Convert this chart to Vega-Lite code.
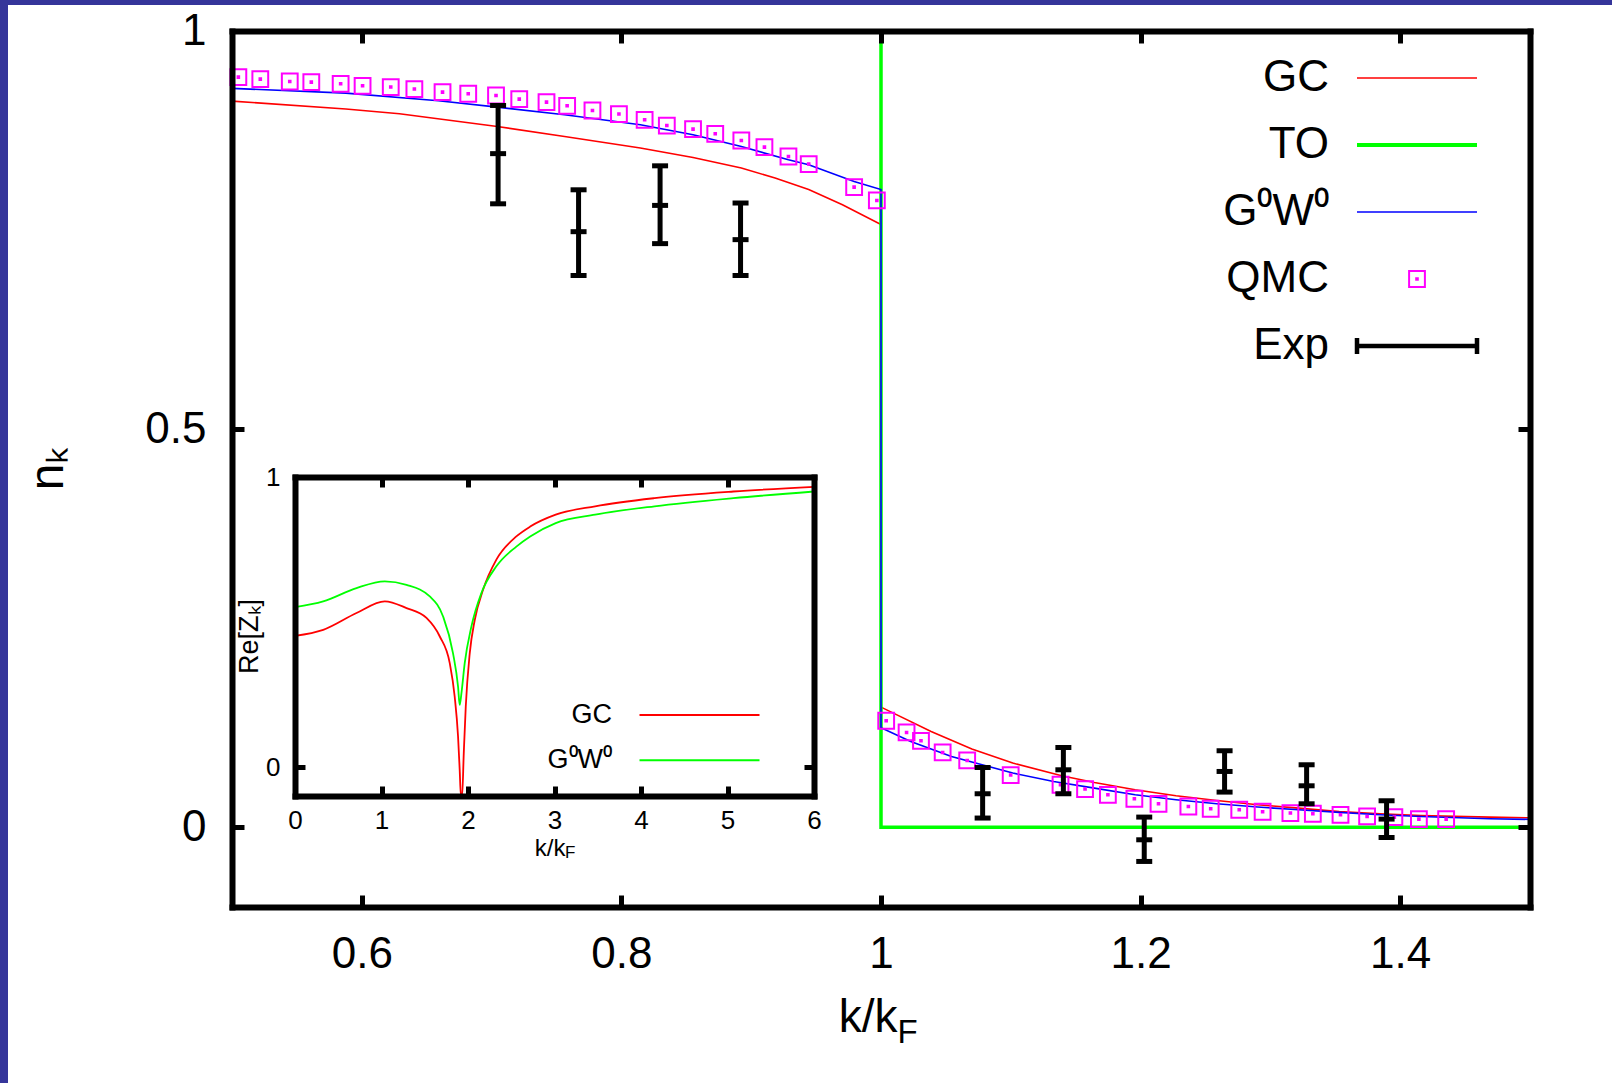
{
  "$schema": "https://vega.github.io/schema/vega-lite/v6.json",
  "padding": 0,
  "background": "white",
  "config": {
    "view": {"stroke": null},
    "font": "Liberation Sans",
    "axis": {"labelFont": "Liberation Sans", "titleFont": "Liberation Sans", "labelColor": "#000", "titleColor": "#000", "tickColor": "#000", "domainColor": "#000", "grid": false, "titleFontWeight": "normal", "labelFlush": false, "labelOverlap": false, "zindex": 1, "domainCap": "square"},
    "legend": {"labelFont": "Liberation Sans", "labelColor": "#000"}
  },
  "datasets": {
    "gc": [
      {"k": 0.5, "n": 0.912}, {"k": 0.5877, "n": 0.902}, {"k": 0.629, "n": 0.896}, {"k": 0.7044, "n": 0.880}, {"k": 0.7562, "n": 0.8676}, {"k": 0.8146, "n": 0.853}, {"k": 0.8552, "n": 0.8412}, {"k": 0.8924, "n": 0.828}, {"k": 0.9184, "n": 0.8153}, {"k": 0.9443, "n": 0.801}, {"k": 0.9703, "n": 0.7818}, {"k": 1.0, "n": 0.757}, {"k": 1.0, "n": 0.151}, {"k": 1.0386, "n": 0.1204}, {"k": 1.07, "n": 0.0983}, {"k": 1.1015, "n": 0.0807}, {"k": 1.1392, "n": 0.0648}, {"k": 1.1644, "n": 0.0564}, {"k": 1.1958, "n": 0.0472}, {"k": 1.2273, "n": 0.0397}, {"k": 1.2587, "n": 0.0338}, {"k": 1.2902, "n": 0.0284}, {"k": 1.3217, "n": 0.0242}, {"k": 1.3531, "n": 0.0200}, {"k": 1.3845, "n": 0.0171}, {"k": 1.416, "n": 0.0149}, {"k": 1.4688, "n": 0.0129}, {"k": 1.5, "n": 0.012}
    ],
    "g0w0": [
      {"k": 0.5, "n": 0.928}, {"k": 0.5877, "n": 0.922}, {"k": 0.659, "n": 0.9124}, {"k": 0.7044, "n": 0.9044}, {"k": 0.7562, "n": 0.8948}, {"k": 0.8146, "n": 0.8822}, {"k": 0.8552, "n": 0.8697}, {"k": 0.8924, "n": 0.855}, {"k": 0.9287, "n": 0.8383}, {"k": 0.9443, "n": 0.832}, {"k": 0.9793, "n": 0.811}, {"k": 1.0, "n": 0.801}, {"k": 1.0, "n": 0.125}, {"k": 1.0229, "n": 0.1079}, {"k": 1.0543, "n": 0.089}, {"k": 1.1015, "n": 0.0682}, {"k": 1.133, "n": 0.0576}, {"k": 1.1644, "n": 0.0493}, {"k": 1.1958, "n": 0.0409}, {"k": 1.2273, "n": 0.0347}, {"k": 1.2587, "n": 0.0296}, {"k": 1.2902, "n": 0.0255}, {"k": 1.3217, "n": 0.0221}, {"k": 1.3531, "n": 0.0188}, {"k": 1.3845, "n": 0.0158}, {"k": 1.416, "n": 0.0137}, {"k": 1.4688, "n": 0.0108}, {"k": 1.5, "n": 0.010}
    ],
    "to": [{"k": 0.5, "n": 1}, {"k": 1.0, "n": 1}, {"k": 1.0, "n": 0}, {"k": 1.5, "n": 0}],
    "qmc": [
      {"series": "QMC", "k": 0.5049, "n": 0.9421}, {"series": "QMC", "k": 0.5218, "n": 0.9396}, {"series": "QMC", "k": 0.5445, "n": 0.9366}, {"series": "QMC", "k": 0.5611, "n": 0.9358}, {"series": "QMC", "k": 0.5837, "n": 0.9337}, {"series": "QMC", "k": 0.6006, "n": 0.9312}, {"series": "QMC", "k": 0.6223, "n": 0.9296}, {"series": "QMC", "k": 0.6405, "n": 0.9271}, {"series": "QMC", "k": 0.6622, "n": 0.9233}, {"series": "QMC", "k": 0.682, "n": 0.9212}, {"series": "QMC", "k": 0.7034, "n": 0.919}, {"series": "QMC", "k": 0.7213, "n": 0.9145}, {"series": "QMC", "k": 0.7423, "n": 0.9107}, {"series": "QMC", "k": 0.7582, "n": 0.9061}, {"series": "QMC", "k": 0.7777, "n": 0.9002}, {"series": "QMC", "k": 0.7981, "n": 0.8957}, {"series": "QMC", "k": 0.8179, "n": 0.8885}, {"series": "QMC", "k": 0.835, "n": 0.8813}, {"series": "QMC", "k": 0.8552, "n": 0.8768}, {"series": "QMC", "k": 0.8723, "n": 0.8709}, {"series": "QMC", "k": 0.8924, "n": 0.8625}, {"series": "QMC", "k": 0.9102, "n": 0.8542}, {"series": "QMC", "k": 0.9287, "n": 0.8424}, {"series": "QMC", "k": 0.9443, "n": 0.8329}, {"series": "QMC", "k": 0.9793, "n": 0.804}, {"series": "QMC", "k": 0.9968, "n": 0.7872},
      {"series": "QMC", "k": 1.004, "n": 0.1339}, {"series": "QMC", "k": 1.0197, "n": 0.1192}, {"series": "QMC", "k": 1.0308, "n": 0.1087}, {"series": "QMC", "k": 1.0475, "n": 0.0941}, {"series": "QMC", "k": 1.0664, "n": 0.084}, {"series": "QMC", "k": 1.0999, "n": 0.0657}, {"series": "QMC", "k": 1.1383, "n": 0.0535}, {"series": "QMC", "k": 1.1572, "n": 0.0481}, {"series": "QMC", "k": 1.1748, "n": 0.0409}, {"series": "QMC", "k": 1.1952, "n": 0.0359}, {"series": "QMC", "k": 1.2138, "n": 0.0296}, {"series": "QMC", "k": 1.2368, "n": 0.0262}, {"series": "QMC", "k": 1.254, "n": 0.0234}, {"series": "QMC", "k": 1.276, "n": 0.0221}, {"series": "QMC", "k": 1.294, "n": 0.0196}, {"series": "QMC", "k": 1.3154, "n": 0.018}, {"series": "QMC", "k": 1.3327, "n": 0.0171}, {"series": "QMC", "k": 1.354, "n": 0.0158}, {"series": "QMC", "k": 1.3745, "n": 0.0137}, {"series": "QMC", "k": 1.3955, "n": 0.0129}, {"series": "QMC", "k": 1.4144, "n": 0.0104}, {"series": "QMC", "k": 1.4354, "n": 0.0104}
    ],
    "exp": [
      {"k": 0.705, "lo": 0.783, "mid": 0.846, "hi": 0.9065},
      {"k": 0.767, "lo": 0.693, "mid": 0.748, "hi": 0.8006},
      {"k": 0.8298, "lo": 0.733, "mid": 0.781, "hi": 0.8307},
      {"k": 0.8918, "lo": 0.693, "mid": 0.738, "hi": 0.784},
      {"k": 1.0783, "lo": 0.0117, "mid": 0.0422, "hi": 0.0752},
      {"k": 1.1405, "lo": 0.0422, "mid": 0.0723, "hi": 0.1003},
      {"k": 1.2028, "lo": -0.0428, "mid": -0.0156, "hi": 0.0129},
      {"k": 1.2647, "lo": 0.0443, "mid": 0.0702, "hi": 0.0962},
      {"k": 1.3279, "lo": 0.0296, "mid": 0.0522, "hi": 0.0786},
      {"k": 1.3895, "lo": -0.0127, "mid": 0.0104, "hi": 0.0334}
    ],
    "inset": [
      {"s": "GC", "x": 0.0, "z": 0.452}, {"s": "GC", "x": 0.326, "z": 0.473}, {"s": "GC", "x": 0.711, "z": 0.531}, {"s": "GC", "x": 1.038, "z": 0.571}, {"s": "GC", "x": 1.289, "z": 0.548}, {"s": "GC", "x": 1.52, "z": 0.514}, {"s": "GC", "x": 1.674, "z": 0.45}, {"s": "GC", "x": 1.789, "z": 0.358}, {"s": "GC", "x": 1.846, "z": 0.243}, {"s": "GC", "x": 1.885, "z": 0.105}, {"s": "GC", "x": 1.904, "z": -0.01}, {"s": "GC", "x": 1.918, "z": -0.1}, {"s": "GC", "x": 1.932, "z": -0.1}, {"s": "GC", "x": 1.951, "z": 0.047}, {"s": "GC", "x": 1.974, "z": 0.208}, {"s": "GC", "x": 2.02, "z": 0.392}, {"s": "GC", "x": 2.078, "z": 0.507}, {"s": "GC", "x": 2.174, "z": 0.611}, {"s": "GC", "x": 2.328, "z": 0.715}, {"s": "GC", "x": 2.559, "z": 0.795}, {"s": "GC", "x": 2.719, "z": 0.829}, {"s": "GC", "x": 3.014, "z": 0.87}, {"s": "GC", "x": 3.47, "z": 0.899}, {"s": "GC", "x": 4.156, "z": 0.927}, {"s": "GC", "x": 5.068, "z": 0.95}, {"s": "GC", "x": 6.0, "z": 0.966},
      {"s": "G⁰W⁰", "x": 0.0, "z": 0.551}, {"s": "G⁰W⁰", "x": 0.326, "z": 0.571}, {"s": "G⁰W⁰", "x": 0.711, "z": 0.617}, {"s": "G⁰W⁰", "x": 1.038, "z": 0.64}, {"s": "G⁰W⁰", "x": 1.289, "z": 0.628}, {"s": "G⁰W⁰", "x": 1.558, "z": 0.588}, {"s": "G⁰W⁰", "x": 1.712, "z": 0.519}, {"s": "G⁰W⁰", "x": 1.827, "z": 0.392}, {"s": "G⁰W⁰", "x": 1.885, "z": 0.277}, {"s": "G⁰W⁰", "x": 1.904, "z": 0.214}, {"s": "G⁰W⁰", "x": 1.924, "z": 0.254}, {"s": "G⁰W⁰", "x": 1.962, "z": 0.358}, {"s": "G⁰W⁰", "x": 2.039, "z": 0.484}, {"s": "G⁰W⁰", "x": 2.155, "z": 0.6}, {"s": "G⁰W⁰", "x": 2.328, "z": 0.692}, {"s": "G⁰W⁰", "x": 2.559, "z": 0.76}, {"s": "G⁰W⁰", "x": 2.719, "z": 0.795}, {"s": "G⁰W⁰", "x": 3.014, "z": 0.841}, {"s": "G⁰W⁰", "x": 3.47, "z": 0.87}, {"s": "G⁰W⁰", "x": 4.156, "z": 0.899}, {"s": "G⁰W⁰", "x": 5.068, "z": 0.927}, {"s": "G⁰W⁰", "x": 6.0, "z": 0.95}
    ]
  },
  "bounds": "flush",
  "spacing": 0,
  "vconcat": [
    {"width": 1612, "height": 5, "data": {"values": []}, "mark": "point", "view": {"fill": "#35359a", "stroke": null}},
    {
      "bounds": "flush",
      "spacing": 224,
      "hconcat": [
        {"width": 8, "height": 1078, "data": {"values": []}, "mark": "point", "view": {"fill": "#35359a", "stroke": null}},
        {
          "bounds": "flush",
          "spacing": 0,
          "vconcat": [
            {"width": 1298, "height": 26, "data": {"values": []}, "mark": "point"},
            {
              "width": 1298,
              "height": 876,
              "layer": [
                {
                  "layer": [
                    {
                      "data": {"name": "gc"},
                      "mark": {"type": "line", "color": "#ff0000", "strokeWidth": 1.6},
                      "encoding": {
                        "x": {"field": "k", "type": "quantitative", "scale": {"domain": [0.5, 1.5], "nice": false, "zero": false},
                          "axis": {"orient": "bottom", "zindex": 2, "values": [0.6, 0.8, 1, 1.2, 1.4], "format": "~g", "tickSize": -12, "tickWidth": 5, "domainWidth": 6, "labelFontSize": 44, "labelPadding": 37, "title": "k/k", "titleFontSize": 46, "titleAlign": "right", "titleX": 665, "titleY": 124, "titleBaseline": "alphabetic", "titleAngle": 0}},
                        "y": {"field": "n", "type": "quantitative", "scale": {"domain": [-0.1, 1], "nice": false, "zero": false},
                          "axis": {"orient": "left", "zindex": 2, "values": [0, 0.5, 1], "format": "~g", "tickSize": -12, "tickWidth": 5, "domainWidth": 6, "labelFontSize": 44, "labelPadding": 38, "title": "nₖ", "titleFontSize": 48, "titleX": -170, "titleY": 437, "titleAlign": "center", "titleBaseline": "alphabetic", "titleAngle": 270}}
                      }
                    },
                    {
                      "data": {"name": "to"},
                      "mark": {"type": "line", "color": "#00ff00", "strokeWidth": 3.5},
                      "encoding": {
                        "x": {"field": "k", "type": "quantitative", "scale": {"domain": [0.5, 1.5], "nice": false, "zero": false},
                          "axis": {"orient": "top", "zindex": 2, "values": [0.6, 0.8, 1, 1.2, 1.4], "labels": false, "tickSize": -12, "tickWidth": 5, "domainWidth": 6, "title": null}},
                        "y": {"field": "n", "type": "quantitative", "scale": {"domain": [-0.1, 1], "nice": false, "zero": false},
                          "axis": {"orient": "right", "zindex": 2, "values": [0, 0.5, 1], "labels": false, "tickSize": -12, "tickWidth": 5, "domainWidth": 6, "title": null}}
                      }
                    },
                    {
                      "data": {"name": "g0w0"},
                      "mark": {"type": "line", "color": "#0000ff", "strokeWidth": 1.6},
                      "encoding": {
                        "x": {"field": "k", "type": "quantitative", "scale": {"domain": [0.5, 1.5], "nice": false, "zero": false}, "axis": null},
                        "y": {"field": "n", "type": "quantitative", "scale": {"domain": [-0.1, 1], "nice": false, "zero": false}, "axis": null}
                      }
                    },
                    {
                      "data": {"name": "qmc"},
                      "mark": {"type": "point", "filled": false, "size": 400, "opacity": 1},
                      "encoding": {
                        "x": {"field": "k", "type": "quantitative", "scale": {"domain": [0.5, 1.5], "nice": false, "zero": false}, "axis": null},
                        "y": {"field": "n", "type": "quantitative", "scale": {"domain": [-0.1, 1], "nice": false, "zero": false}, "axis": null},
                        "color": {"field": "series", "type": "nominal",
                          "scale": {"domain": ["GC", "TO", "G⁰W⁰", "QMC", "Exp"], "range": ["#ff0000", "#00ff00", "#0000ff", "#ff00ff", "#000000"]},
                          "legend": {"orient": "none", "legendX": 1163, "legendY": 25, "title": null, "labelFontSize": 44, "labelAlign": "right", "labelOffset": -110, "labelLimit": 400, "symbolSize": 400, "symbolOpacity": 1, "rowPadding": 23, "padding": 0}},
                        "shape": {"field": "series", "type": "nominal",
                          "scale": {"domain": ["GC", "TO", "G⁰W⁰", "QMC", "Exp"], "range": ["M-6,0H6", "M-6,0H6", "M-6,0H6", "M-0.79,-0.79H0.79V0.79H-0.79Z M-0.08,-0.08H0.08V0.08H-0.08Z", "M-6,0H6M-6,-0.8V0.8M6,-0.8V0.8"]},
                          "legend": {"orient": "none", "legendX": 1163, "legendY": 25, "title": null, "labelFontSize": 44, "labelAlign": "right", "labelOffset": -110, "labelLimit": 400, "symbolSize": 400, "symbolOpacity": 1, "rowPadding": 23, "padding": 0}},
                        "strokeWidth": {"field": "series", "type": "nominal",
                          "scale": {"type": "ordinal", "domain": ["GC", "TO", "G⁰W⁰", "QMC", "Exp"], "range": [1.6, 4, 1.6, 2, 4.5]},
                          "legend": {"orient": "none", "legendX": 1163, "legendY": 25, "title": null, "labelFontSize": 44, "labelAlign": "right", "labelOffset": -110, "labelLimit": 400, "symbolSize": 400, "symbolOpacity": 1, "rowPadding": 23, "padding": 0}}
                      }
                    },
                    {
                      "data": {"name": "exp"},
                      "mark": {"type": "rule", "color": "#000", "strokeWidth": 5},
                      "encoding": {
                        "x": {"field": "k", "type": "quantitative", "scale": {"domain": [0.5, 1.5], "nice": false, "zero": false}, "axis": null},
                        "y": {"field": "lo", "type": "quantitative", "scale": {"domain": [-0.1, 1], "nice": false, "zero": false}, "axis": null},
                        "y2": {"field": "hi"}
                      }
                    },
                    {
                      "data": {"name": "exp"},
                      "mark": {"type": "tick", "orient": "horizontal", "color": "#000", "thickness": 5, "size": 16, "opacity": 1},
                      "encoding": {
                        "x": {"field": "k", "type": "quantitative", "scale": {"domain": [0.5, 1.5], "nice": false, "zero": false}, "axis": null},
                        "y": {"field": "lo", "type": "quantitative", "scale": {"domain": [-0.1, 1], "nice": false, "zero": false}, "axis": null}
                      }
                    },
                    {
                      "data": {"name": "exp"},
                      "mark": {"type": "tick", "orient": "horizontal", "color": "#000", "thickness": 5, "size": 16, "opacity": 1},
                      "encoding": {
                        "x": {"field": "k", "type": "quantitative", "scale": {"domain": [0.5, 1.5], "nice": false, "zero": false}, "axis": null},
                        "y": {"field": "hi", "type": "quantitative", "scale": {"domain": [-0.1, 1], "nice": false, "zero": false}, "axis": null}
                      }
                    },
                    {
                      "data": {"name": "exp"},
                      "mark": {"type": "tick", "orient": "horizontal", "color": "#000", "thickness": 5, "size": 16, "opacity": 1},
                      "encoding": {
                        "x": {"field": "k", "type": "quantitative", "scale": {"domain": [0.5, 1.5], "nice": false, "zero": false}, "axis": null},
                        "y": {"field": "mid", "type": "quantitative", "scale": {"domain": [-0.1, 1], "nice": false, "zero": false}, "axis": null}
                      }
                    },
                    {
                      "data": {"values": [{}]},
                      "mark": {"type": "text", "text": "F", "fontSize": 33, "align": "left", "baseline": "alphabetic", "dy": 136, "font": "Liberation Sans", "color": "#000"},
                      "encoding": {
                        "x": {"datum": 1.0127, "type": "quantitative", "scale": {"domain": [0.5, 1.5], "nice": false, "zero": false}, "axis": null},
                        "y": {"datum": -0.1, "type": "quantitative", "scale": {"domain": [-0.1, 1], "nice": false, "zero": false}, "axis": null}
                      }
                    }
                  ],
                  "resolve": {"axis": {"x": "independent", "y": "independent"}}
                },
                {
                  "layer": [
                    {
                      "data": {"name": "inset"},
                      "mark": {"type": "line", "strokeWidth": 1.8, "interpolate": "monotone"},
                      "encoding": {
                        "x": {"field": "x", "type": "quantitative", "scale": {"domain": [0, 6], "range": [63, 582], "nice": false, "zero": false},
                          "axis": {"orient": "bottom", "zindex": 2, "offset": -111, "values": [0, 1, 2, 3, 4, 5, 6], "format": "d", "tickSize": -10, "tickWidth": 5, "domainWidth": 6, "labelFontSize": 26, "labelPadding": 21, "title": "k/k", "titleFontSize": 24, "titleAlign": "right", "titleX": 333, "titleY": 59, "titleBaseline": "alphabetic", "titleAngle": 0}},
                        "y": {"field": "z", "type": "quantitative", "scale": {"domain": [-0.1, 1], "range": [765, 446], "nice": false, "zero": false},
                          "axis": {"orient": "left", "zindex": 2, "offset": -63, "values": [0, 1], "format": "d", "tickSize": -10, "tickWidth": 5, "domainWidth": 6, "labelFontSize": 26, "labelPadding": 25, "title": "Re[Zₖ]", "titleFontSize": 27, "titleX": -38, "titleY": 605, "titleAlign": "center", "titleBaseline": "alphabetic", "titleAngle": 270}},
                        "color": {"field": "s", "type": "nominal", "scale": {"domain": ["GC", "G⁰W⁰"], "range": ["#ff0000", "#00ff00"]},
                          "legend": {"orient": "none", "legendX": 454, "legendY": 670.5, "title": null, "labelFontSize": 27, "labelAlign": "right", "labelOffset": -101, "labelLimit": 300, "symbolType": "M-6,0H6", "symbolSize": 400, "symbolStrokeWidth": 2, "rowPadding": 17.3, "padding": 0}}
                      }
                    },
                    {
                      "data": {"name": "inset"},
                      "mark": {"type": "point", "opacity": 0},
                      "encoding": {
                        "x": {"field": "x", "type": "quantitative", "scale": {"domain": [0, 6], "range": [63, 582], "nice": false, "zero": false},
                          "axis": {"orient": "top", "zindex": 2, "offset": -446, "values": [0, 1, 2, 3, 4, 5, 6], "labels": false, "tickSize": -10, "tickWidth": 5, "domainWidth": 6, "title": null}},
                        "y": {"field": "z", "type": "quantitative", "scale": {"domain": [-0.1, 1], "range": [765, 446], "nice": false, "zero": false},
                          "axis": {"orient": "right", "zindex": 2, "offset": -716, "values": [0, 1], "labels": false, "tickSize": -10, "tickWidth": 5, "domainWidth": 6, "title": null}}
                      }
                    },
                    {
                      "data": {"values": [{}]},
                      "mark": {"type": "text", "text": "F", "fontSize": 17, "align": "left", "baseline": "alphabetic", "dy": 62, "font": "Liberation Sans", "color": "#000"},
                      "encoding": {
                        "x": {"datum": 3.121, "type": "quantitative", "scale": {"domain": [0, 6], "range": [63, 582], "nice": false, "zero": false}, "axis": null},
                        "y": {"datum": -0.1, "type": "quantitative", "scale": {"domain": [-0.1, 1], "range": [765, 446], "nice": false, "zero": false}, "axis": null}
                      }
                    }
                  ],
                  "resolve": {"axis": {"x": "independent", "y": "independent"}}
                }
              ],
              "resolve": {"scale": {"x": "independent", "y": "independent", "color": "independent", "shape": "independent", "strokeWidth": "independent"}}
            }
          ]
        }
      ]
    }
  ]
}
